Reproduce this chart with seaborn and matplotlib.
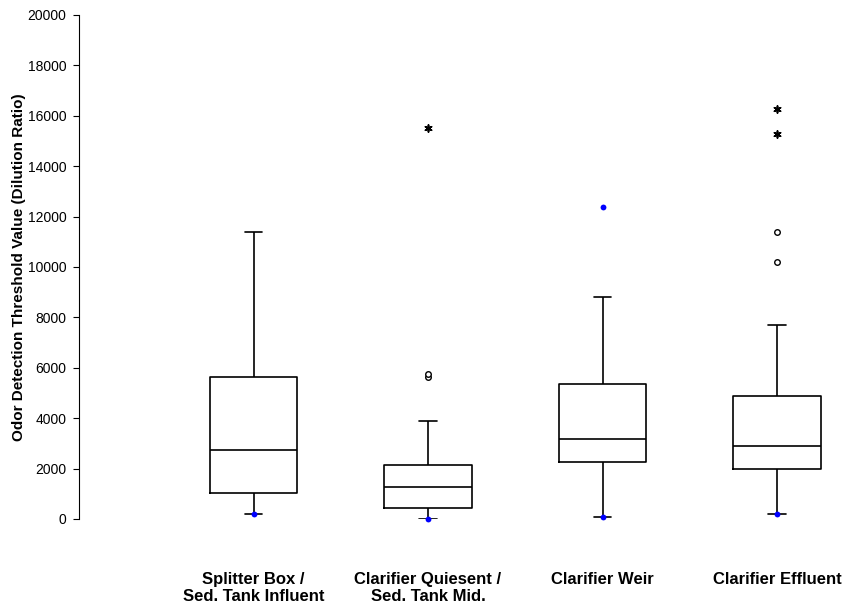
import numpy as np
import pandas as pd
import seaborn as sns
import matplotlib
matplotlib.use("Agg")
import matplotlib.pyplot as plt

# ---- data ----
categories = ["Splitter Box /\nSed. Tank Influent",
              "Clarifier Quiesent /\nSed. Tank Mid.",
              "Clarifier Weir",
              "Clarifier Effluent"]
whisker_low = [200, 0, 90, 200]
q1 = [1045, 425, 2250, 1970]
median = [2740, 1270, 3160, 2900]
q3 = [5620, 2140, 5360, 4880]
whisker_high = [11400, 3900, 8820, 7700]

# extreme outliers (asterisks)
extreme_cat = [categories[1], categories[3], categories[3]]
extreme_val = [15530, 16280, 15270]
# mild outliers (open circles)
mild_cat = [categories[1], categories[1], categories[3], categories[3]]
mild_val = [5620, 5740, 11390, 10210]
# min / max markers (blue dots)
minmax_cat = [categories[0], categories[1], categories[2], categories[2], categories[3]]
minmax_val = [200, 0, 90, 12380, 200]

yticks = [0, 2000, 4000, 6000, 8000, 10000, 12000, 14000, 16000, 18000, 20000]

# ---- tables ----
rows = []
for c, a, b, m, d, e in zip(categories, whisker_low, q1, median, q3, whisker_high):
    for v in (a, b, m, d, e):
        rows.append({"cat": c, "val": v})
box_df = pd.DataFrame(rows)
ext_df = pd.DataFrame({"cat": extreme_cat, "val": extreme_val})
mild_df = pd.DataFrame({"cat": mild_cat, "val": mild_val})
mm_df = pd.DataFrame({"cat": minmax_cat, "val": minmax_val})

sns.set_style("ticks")
plt.rcParams["font.family"] = ["Liberation Sans", "DejaVu Sans"]
plt.rcParams["text.color"] = "black"
plt.rcParams["axes.labelcolor"] = "black"
plt.rcParams["xtick.color"] = "black"
plt.rcParams["ytick.color"] = "black"

fig = plt.figure(figsize=(8.53, 6.08), dpi=100)
ax = fig.add_axes([79 / 853, 89 / 608, 1 - 79 / 853, 504 / 608])

sns.boxplot(data=box_df, x="cat", y="val", order=categories, whis=(0, 100),
            width=0.5, fill=False, color="black", linewidth=1.2,
            capwidths=0.1, ax=ax)

sns.stripplot(data=ext_df, x="cat", y="val", order=categories, jitter=False,
              marker=(6, 2, 0), size=5, color="black", edgecolor="black",
              linewidth=1.2, ax=ax, zorder=4)
sns.stripplot(data=mild_df, x="cat", y="val", order=categories, jitter=False,
              marker="o", size=4, color="white", edgecolor="black",
              linewidth=1.0, ax=ax, zorder=4)
sns.stripplot(data=mm_df, x="cat", y="val", order=categories, jitter=False,
              marker="o", size=4.2, color="blue", linewidth=0,
              ax=ax, zorder=5)

for c in ax.collections:
    c.set_clip_on(False)

ax.set_xlim(-1.0, 3.435)
ax.set_ylim(0, 20000)
ax.set_yticks(yticks)
ax.set_yticklabels([str(t) for t in yticks], fontsize=10)
ax.tick_params(axis="y", direction="out", length=4, width=0.8, pad=5, colors="black")
ax.tick_params(axis="x", length=0, pad=38, labelsize=12, colors="black")
for lab in ax.get_xticklabels():
    lab.set_fontweight("bold")
    lab.set_multialignment("center")
    lab.set_linespacing(1.2)

ax.set_xlabel("")
ax.set_ylabel("Odor Detection Threshold Value (Dilution Ratio)", fontsize=11,
              fontweight="bold", color="black")
ax.yaxis.set_label_coords(-0.069, 0.5)

for s in ["top", "right", "bottom"]:
    ax.spines[s].set_visible(False)
ax.spines["left"].set_linewidth(0.8)
ax.spines["left"].set_color("black")
ax.grid(False)

fig.savefig("out.png", dpi=100)
